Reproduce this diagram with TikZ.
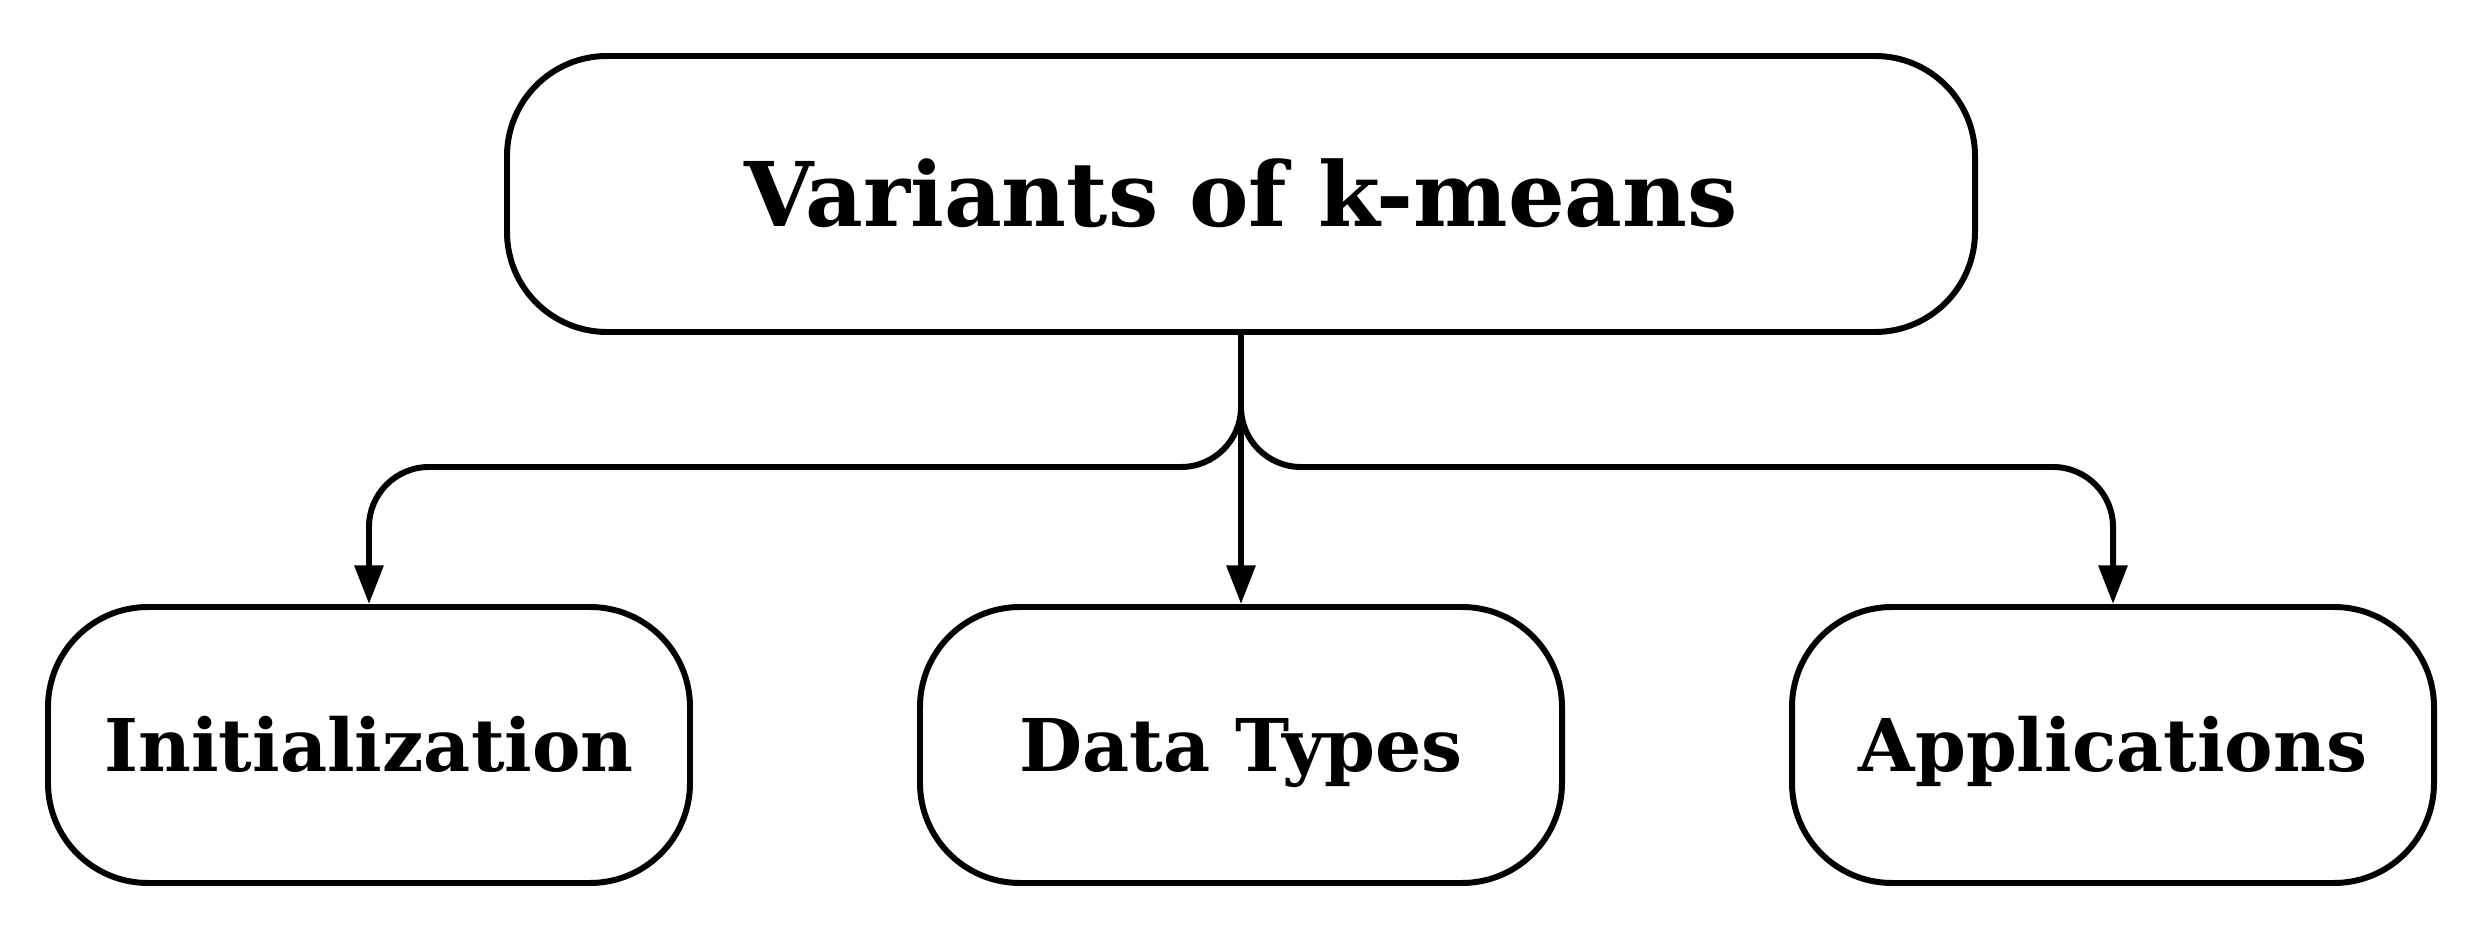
\documentclass[tikz,border=0pt]{standalone}
\usepackage{fontspec}
\setmainfont{DejaVu Serif}
\usetikzlibrary{arrows.meta}

\tikzset{
  box/.style={draw, line width=1.7pt, rounded corners=1cm, text depth=0pt},
  topbox/.style={box, minimum width=14.68cm, minimum height=2.76cm,
    font=\fontsize{25.4}{30}\selectfont\bfseries, text height=18.5pt},
  itembox/.style={box, minimum width=6.42cm, minimum height=2.76cm,
    font=\fontsize{20.7}{25}\selectfont\bfseries, text height=15.1pt},
  link/.style={line width=1.7pt, rounded corners=0.6cm, -{Triangle[length=11pt,width=8pt]}}
}

\begin{document}
\begin{tikzpicture}

\useasboundingbox (0,0) rectangle (24.7,-9.3);

\node[topbox] (root) at (12.41,-1.94) {Variants of k-means};

\node[itembox] (init) at (3.69,-7.45) {Initialization};
\node[itembox] (types) at (12.41,-7.45) {Data Types};
\node[itembox] (apps) at (21.13,-7.45) {Applications};

\coordinate (fork) at (12.41,-4.67);

\draw[link] (root.south) -- (types.north);
\draw[link] (root.south) -- (fork) -| (init.north);
\draw[link] (root.south) -- (fork) -| (apps.north);

\end{tikzpicture}
\end{document}
